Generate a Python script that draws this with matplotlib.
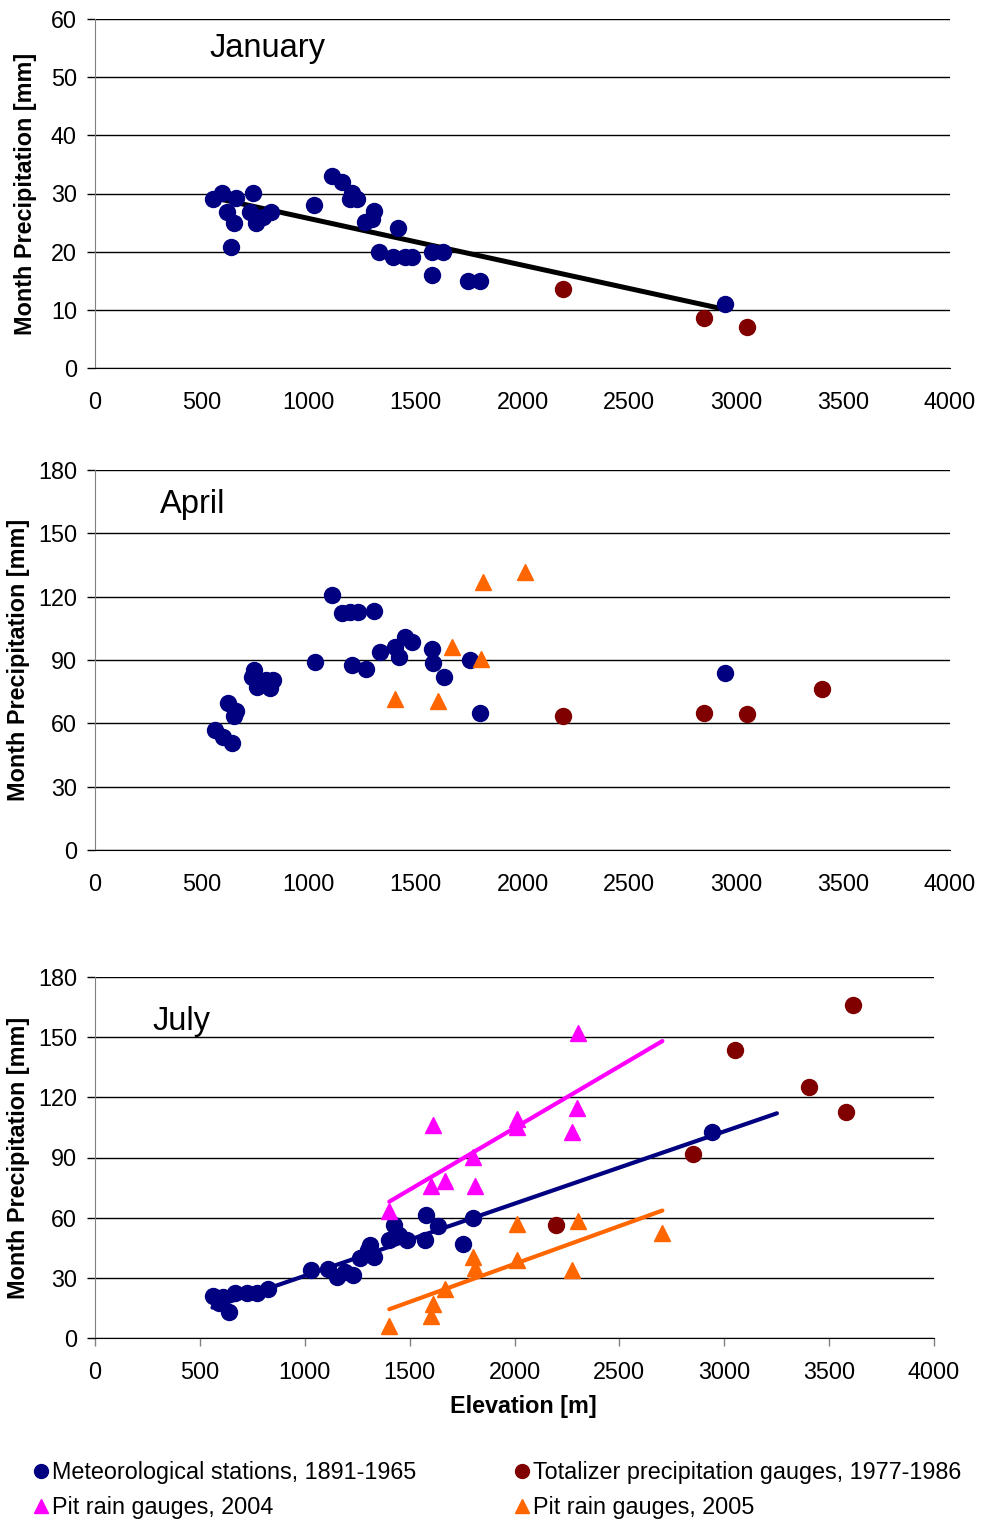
import numpy as np
import matplotlib
matplotlib.use('Agg')
import matplotlib.pyplot as plt
from matplotlib.lines import Line2D

plt.rcParams['font.family'] = ['Liberation Sans', 'DejaVu Sans']

NAVY = '#000080'
DARKRED = '#800000'
MAGENTA = '#FF00FF'
ORANGE = '#FF6600'

# ---- January ----
jan_met_x = [553, 596, 658, 616, 650, 636, 741, 725, 752, 787, 822, 1026, 1110, 1154,
             1201, 1193, 1224, 1305, 1294, 1263, 1419, 1329, 1396, 1450, 1482, 1575,
             1629, 1575, 1746, 1801, 2948]
jan_met_y = [29.0, 30.1, 29.2, 26.9, 25.0, 20.8, 30.1, 26.8, 25.0, 26.0, 26.9, 28.1, 33.0,
             32.0, 30.1, 29.0, 29.0, 27.0, 25.7, 25.1, 24.0, 20.0, 19.0, 19.0, 19.0, 20.0,
             20.0, 16.0, 15.0, 15.0, 11.0]
jan_tot_x = [2190, 2849, 3050]
jan_tot_y = [13.6, 8.6, 7.0]
jan_trend_x = [553, 2950]
jan_trend_coef = [-0.00803, 33.74]   # slope, intercept

# ---- April ----
apr_met_x = [1110, 1157, 1193, 1229, 1305, 1332, 1404, 1421, 1452, 1485, 1578, 1580, 1634,
             1753, 1803, 1029, 1202, 1268, 744, 733, 756, 800, 831, 819, 624, 660, 650,
             561, 600, 639, 2948]
apr_met_y = [120.8, 112.1, 112.9, 112.9, 113.2, 93.9, 96.0, 91.6, 101.0, 98.7, 95.2, 88.7,
             82.1, 90.0, 64.9, 88.9, 87.6, 85.7, 85.3, 81.8, 77.4, 80.5, 80.5, 76.6, 69.8,
             66.0, 63.5, 56.8, 53.7, 50.8, 83.8]
apr_tot_x = [2190, 2849, 3050, 3401]
apr_tot_y = [63.5, 64.9, 64.4, 76.3]
apr_pit05_x = [1670, 1806, 1405, 1603, 1814, 2012]
apr_pit05_y = [96.3, 90.3, 71.4, 70.7, 127.1, 131.8]

# ---- July ----
jul_met_x = [562, 641, 612, 668, 589, 724, 772, 823, 1030, 1109, 1154, 1193, 1230, 1265,
             1313, 1332, 1302, 1400, 1424, 1448, 1488, 1580, 1575, 1634, 1753, 1803, 2940]
jul_met_y = [20.9, 13.1, 20.6, 22.3, 17.3, 22.3, 22.3, 24.3, 33.9, 34.3, 30.6, 33.1, 31.4,
             39.7, 46.4, 40.5, 43.9, 48.9, 56.3, 51.4, 48.9, 61.3, 48.9, 55.8, 46.9, 59.7,
             102.7]
jul_tot_x = [2196, 2850, 3050, 3403, 3580, 3613]
jul_tot_y = [56.3, 91.7, 143.6, 125.2, 112.7, 166.0]
jul_pit04_x = [1403, 1613, 1604, 1671, 1800, 1814, 2010, 2014, 2272, 2296, 2305]
jul_pit04_y = [63.3, 106.2, 75.8, 78.3, 90.2, 75.8, 109.2, 105.2, 102.7, 114.7, 152.1]
jul_pit05_x = [1403, 1604, 1613, 1671, 1800, 1814, 2010, 2014, 2272, 2305, 2702]
jul_pit05_y = [6.0, 11.0, 17.0, 24.4, 40.4, 34.9, 56.8, 38.9, 33.9, 58.3, 52.4]
jul_met_trend_x = [560, 3251]
jul_met_trend_coef = [0.0360, -5.0]
jul_pit04_trend_x = [1403, 2705]
jul_pit04_trend_coef = [0.0615, -18.3]
jul_pit05_trend_x = [1403, 2705]
jul_pit05_trend_coef = [0.0378, -38.7]

xticks = [0, 500, 1000, 1500, 2000, 2500, 3000, 3500, 4000]

FS = 16.8

fig = plt.figure(figsize=(9.83, 15.22), dpi=100)
ax1 = fig.add_axes([95/983, 1 - 368/1522, 855/983, 349/1522])
ax2 = fig.add_axes([95/983, 1 - 850/1522, 855/983, 380/1522])
ax3 = fig.add_axes([95/983, 1 - 1338/1522, 839/983, 361/1522])

ms = 11.5


def style(ax, ymax, ystep, xticklen=0.0):
    ax.set_xlim(0, 4000)
    ax.set_ylim(0, ymax)
    ax.set_xticks(xticks)
    ax.set_yticks(np.arange(0, ymax + 1, ystep))
    for s in ['top', 'right']:
        ax.spines[s].set_visible(False)
    ax.spines['left'].set_color('#808080')
    ax.spines['bottom'].set_color('black')
    ax.yaxis.grid(True, color='black', lw=1)
    ax.set_axisbelow(True)
    ax.tick_params(axis='y', length=5.8, width=1, color='black', labelsize=FS, pad=7.2)
    ax.tick_params(axis='x', length=xticklen, width=1, direction='out', color='#808080',
                   labelsize=FS, pad=16.5 - xticklen)
    ax.set_ylabel('Month Precipitation [mm]', fontsize=FS, fontweight='bold')


def trend(ax, xr, coef, color, lw):
    xr = np.array(xr, dtype=float)
    ax.plot(xr, np.polyval(coef, xr), color=color, lw=lw, solid_capstyle='round', zorder=2)


# January
style(ax1, 60, 10)
ax1.plot(jan_met_x, jan_met_y, 'o', color=NAVY, ms=ms, zorder=3)
ax1.plot(jan_tot_x, jan_tot_y, 'o', color=DARKRED, ms=ms, zorder=3)
trend(ax1, jan_trend_x, jan_trend_coef, 'black', 3.6)
ax1.text(0.1335, 0.915, 'January', transform=ax1.transAxes, fontsize=23.5, va='center')
ax1.yaxis.set_label_coords(-58/855, 0.5)

# April
style(ax2, 180, 30)
ax2.plot(apr_met_x, apr_met_y, 'o', color=NAVY, ms=ms, zorder=3)
ax2.plot(apr_tot_x, apr_tot_y, 'o', color=DARKRED, ms=ms, zorder=3)
ax2.plot(apr_pit05_x, apr_pit05_y, '^', color=ORANGE, ms=ms, zorder=3)
ax2.text(0.076, 0.91, 'April', transform=ax2.transAxes, fontsize=23.5, va='center')
ax2.yaxis.set_label_coords(-65/855, 0.5)

# July
style(ax3, 180, 30, xticklen=5.8)
ax3.plot(jul_met_x, jul_met_y, 'o', color=NAVY, ms=ms, zorder=3)
ax3.plot(jul_tot_x, jul_tot_y, 'o', color=DARKRED, ms=ms, zorder=3)
ax3.plot(jul_pit04_x, jul_pit04_y, '^', color=MAGENTA, ms=ms, zorder=3)
ax3.plot(jul_pit05_x, jul_pit05_y, '^', color=ORANGE, ms=ms, zorder=3)
trend(ax3, jul_met_trend_x, jul_met_trend_coef, NAVY, 3.0)
trend(ax3, jul_pit04_trend_x, jul_pit04_trend_coef, MAGENTA, 3.0)
trend(ax3, jul_pit05_trend_x, jul_pit05_trend_coef, ORANGE, 3.0)
ax3.text(0.069, 0.878, 'July', transform=ax3.transAxes, fontsize=23.5, va='center')
ax3.yaxis.set_label_coords(-65/839, 0.5)

fig.text(523/983, 1 - 1407/1522, 'Elevation [m]', fontsize=FS, fontweight='bold',
         ha='center', va='center')

handles = [
    Line2D([], [], ls='none', marker='o', color=NAVY, ms=10),
    Line2D([], [], ls='none', marker='^', color=MAGENTA, ms=10),
    Line2D([], [], ls='none', marker='o', color=DARKRED, ms=10),
    Line2D([], [], ls='none', marker='^', color=ORANGE, ms=10),
]
labels = ['Meteorological stations, 1891-1965', 'Pit rain gauges, 2004',
          'Totalizer precipitation gauges, 1977-1986', 'Pit rain gauges, 2005']
fig.legend(handles, labels, ncol=2, loc='center left', bbox_to_anchor=(23/983, 1 - 1490/1522),
           frameon=False, fontsize=FS, handlelength=0.55, handletextpad=0.2,
           columnspacing=4.25, labelspacing=0.5, borderpad=0)

fig.savefig('out.png', dpi=100)
